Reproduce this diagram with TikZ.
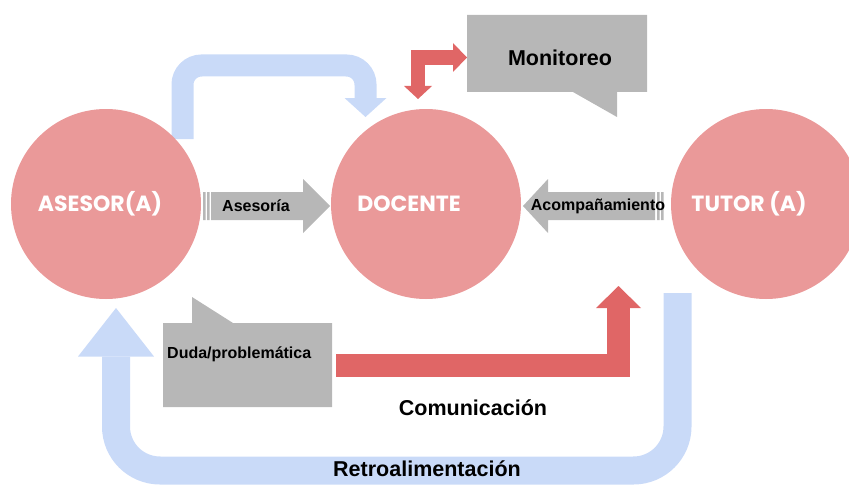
\documentclass[tikz,border=0pt]{standalone}
\usepackage{fontspec}
\setmainfont{Liberation Sans}
\newfontfamily\circfont{Poppins}
\usepackage{tikz}
\usetikzlibrary{arrows, positioning}
\definecolor{circpink}{HTML}{EA9999}
\definecolor{redarrow}{HTML}{E06666}
\definecolor{bluearrow}{HTML}{C9DAF8}
\definecolor{boxgray}{HTML}{B7B7B7}

\begin{document}
\begin{tikzpicture}[x=1pt,y=-1pt,node distance=320pt]
		\tikzstyle{person}=[circle,fill=circpink,minimum size=190pt,inner sep=0pt]
		\tikzstyle{personlbl}=[text=white,inner sep=0pt,font=\circfont\bfseries\fontsize{22}{24}\selectfont]
		\tikzstyle{lbl}=[inner sep=0pt,font=\bfseries\fontsize{16}{18}\selectfont]
		\tikzstyle{biglbl}=[inner sep=0pt,font=\bfseries\fontsize{21.5}{24}\selectfont]
		\tikzstyle{bluebar}=[draw=bluearrow,line cap=butt]
		\tikzstyle{redbar}=[draw=redarrow,line cap=butt,line join=miter]

		\useasboundingbox (0,0) rectangle (849,487);

		% block arrows in the back
		\draw[bluebar,line width=22pt,rounded corners=19pt] (182.5,139) -- (182.5,65.5) -- (365.5,65.5) -- (365.5,98.5);
		\fill[bluearrow] (344.5,98) -- (386.5,98) -- (365.5,117) -- cycle;
		\draw[bluebar,line width=28pt,rounded corners=44pt] (677.5,293) -- (677.5,470.5) -- (116,470.5) -- (116,356.5);
		\fill[bluearrow] (78,356.5) -- (154,356.5) -- (116,308) -- cycle;
		\draw[redbar,line width=14.5pt] (418,86.5) -- (418,57.5) -- (453.5,57.5);
		\fill[redarrow] (404,86) -- (432,86) -- (418,99) -- cycle;
		\fill[redarrow] (453,43) -- (453,72) -- (467,57.5) -- cycle;
		\draw[redbar,line width=22.5pt] (336,365.5) -- (618.5,365.5) -- (618.5,307.5);
		\fill[redarrow] (596,308) -- (641,308) -- (618.5,286) -- cycle;

		\node[person] (asesor) at (106,204) {};
		\node[person] (docente) [right of=asesor] {};
		\node[person] (tutor) [right of=docente,xshift=20pt] {};
		\node[personlbl] (asesor_l) at ([xshift=-6pt]asesor.center) {ASESOR(A)};
		\node[personlbl] (docente_l) at ([xshift=-17pt]docente.center) {DOCENTE};
		\node[personlbl] (tutor_l) at ([xshift=-17pt]tutor.center) {TUTOR (A)};

		% striped arrows
		\fill[boxgray] (203,192) rectangle (205.5,220) (207,192) rectangle (209.5,220);
		\fill[boxgray] (211,192) -- (303,192) -- (303,179) -- (330,206) -- (303,233) -- (303,220) -- (211,220) -- cycle;
		\node[lbl] (asesoria) at (256,206) {Asesoría};
		\fill[boxgray] (657,192) rectangle (659.5,220) (661,192) rectangle (663.5,220);
		\fill[boxgray] (655,192) -- (548,192) -- (548,179) -- (523,206) -- (548,233) -- (548,220) -- (655,220) -- cycle;
		\node[lbl] (acomp) at (598,206) {Acompañamiento};

		% callouts
		\fill[boxgray] (467,15) -- (647,15) -- (647,92) -- (617,92) -- (617,117) -- (573,92) -- (467,92) -- cycle;
		\node[biglbl] (monitoreo) at (560,58) {Monitoreo};
		\fill[boxgray] (163,323) -- (192,323) -- (192,297) -- (233,323) -- (332,323) -- (332,407) -- (163,407) -- cycle;
		\node[lbl,anchor=west] (duda) at (167,354) {Duda/problemática};

		\node[biglbl] (comunic) at (473,408) {Comunicación};
		\node[biglbl] (retro) at (427,469) {Retroalimentación};

	\end{tikzpicture}
\end{document}
